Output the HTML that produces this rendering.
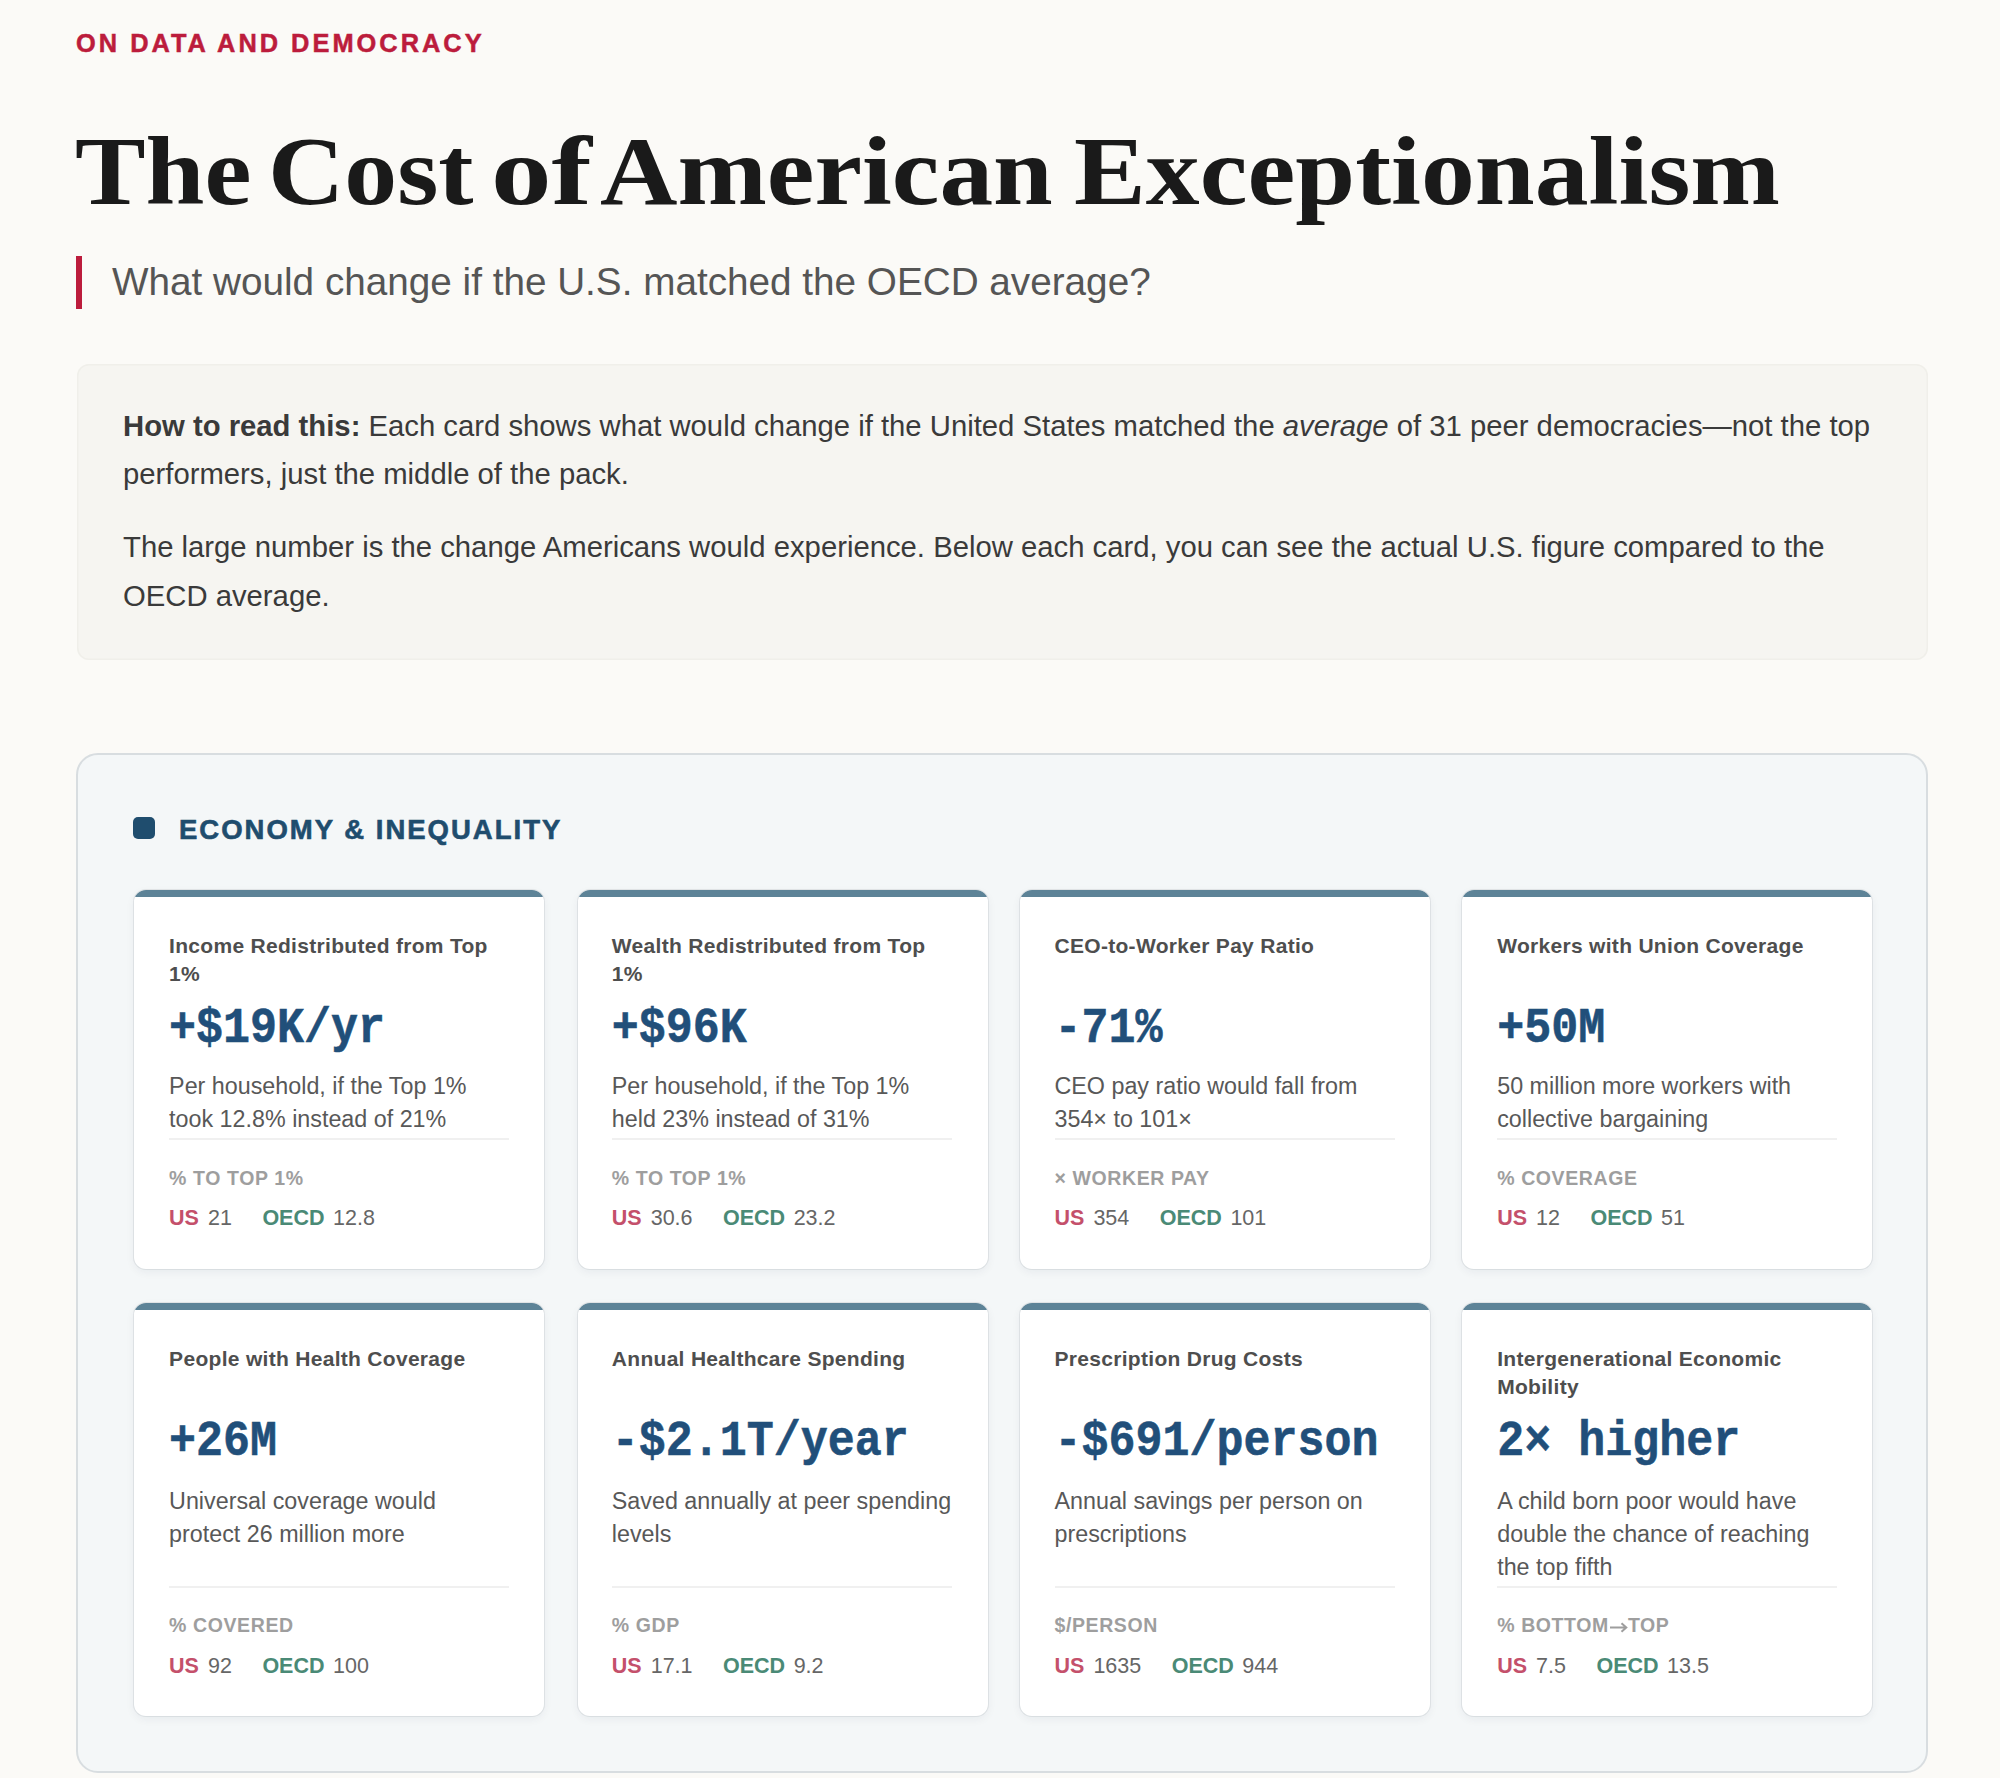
<!DOCTYPE html>
<html><head><meta charset="utf-8"><title>The Cost of American Exceptionalism</title>
<style>
html,body{margin:0;padding:0;}
@media (max-width:1500px){body{zoom:0.5;}}
body{width:2000px;height:1778px;background:#FBFAF7;position:relative;overflow:hidden;font-family:"Liberation Sans", sans-serif;}
.card{position:absolute;width:410px;background:#FFFFFF;border-radius:12px;overflow:hidden;box-shadow:0 0 0 1px rgba(30,40,50,0.08),0 3px 10px rgba(20,40,60,0.06);}
.card::before{content:"";position:absolute;left:0;top:0;right:0;height:6.5px;background:#5D8397;}
</style></head><body>
<div style="position:absolute;left:76px;top:26.68px;white-space:nowrap;font-family:'Liberation Sans', sans-serif;font-size:25.4px;line-height:33.02px;font-weight:bold;color:#BC1C3C;letter-spacing:3.0px;-webkit-text-stroke:0.5px #BC1C3C;">ON DATA AND DEMOCRACY</div>
<div style="position:absolute;left:75.42px;top:107.98px;white-space:nowrap;font-family:'Liberation Serif', serif;font-size:98px;line-height:127.4px;font-weight:bold;color:#1A1A1A;letter-spacing:0px;transform:scaleX(1.0799);transform-origin:0 0;">The</div>
<div style="position:absolute;left:267.61px;top:107.98px;white-space:nowrap;font-family:'Liberation Serif', serif;font-size:98px;line-height:127.4px;font-weight:bold;color:#1A1A1A;letter-spacing:0px;transform:scaleX(1.0788);transform-origin:0 0;">Cost</div>
<div style="position:absolute;left:490.59px;top:107.98px;white-space:nowrap;font-family:'Liberation Serif', serif;font-size:98px;line-height:127.4px;font-weight:bold;color:#1A1A1A;letter-spacing:0px;transform:scaleX(1.2367);transform-origin:0 0;">of</div>
<div style="position:absolute;left:599.91px;top:107.98px;white-space:nowrap;font-family:'Liberation Serif', serif;font-size:98px;line-height:127.4px;font-weight:bold;color:#1A1A1A;letter-spacing:0px;transform:scaleX(1.0944);transform-origin:0 0;">American</div>
<div style="position:absolute;left:1074.2px;top:107.98px;white-space:nowrap;font-family:'Liberation Serif', serif;font-size:98px;line-height:127.4px;font-weight:bold;color:#1A1A1A;letter-spacing:0px;transform:scaleX(1.0989);transform-origin:0 0;">Exceptionalism</div>
<div style="position:absolute;left:76px;top:255.5px;width:6px;height:53.5px;background:#BC1C3C"></div>
<div style="position:absolute;left:112px;top:256.93px;white-space:nowrap;font-family:'Liberation Sans', sans-serif;font-size:38.7px;line-height:50.31px;font-weight:normal;color:#555555;letter-spacing:0px;">What would change if the U.S. matched the OECD average?</div>
<div style="position:absolute;left:76.5px;top:363.5px;width:1851px;height:296px;background:#F6F5F1;border-radius:12px;box-shadow:inset 0 0 0 1.5px #F0EFEA"></div>
<div style="position:absolute;left:123px;top:401.75px;white-space:nowrap;font-family:'Liberation Sans', sans-serif;font-size:29.27px;line-height:48.4px;font-weight:normal;color:#3A3A3A;letter-spacing:0px;"><b>How to read this:</b> Each card shows what would change if the United States matched the <i>average</i> of 31 peer democracies—not the top</div>
<div style="position:absolute;left:123px;top:450.15px;white-space:nowrap;font-family:'Liberation Sans', sans-serif;font-size:29.27px;line-height:48.4px;font-weight:normal;color:#3A3A3A;letter-spacing:0px;">performers, just the middle of the pack.</div>
<div style="position:absolute;left:123px;top:523.45px;white-space:nowrap;font-family:'Liberation Sans', sans-serif;font-size:29.27px;line-height:48.4px;font-weight:normal;color:#3A3A3A;letter-spacing:0px;">The large number is the change Americans would experience. Below each card, you can see the actual U.S. figure compared to the</div>
<div style="position:absolute;left:123px;top:571.65px;white-space:nowrap;font-family:'Liberation Sans', sans-serif;font-size:29.27px;line-height:48.4px;font-weight:normal;color:#3A3A3A;letter-spacing:0px;">OECD average.</div>
<div style="position:absolute;left:76px;top:753px;width:1848px;height:1016px;background:#F4F7F8;border:2px solid #D8DDE0;border-radius:22px"></div>
<div style="position:absolute;left:133px;top:817px;width:22px;height:22px;background:#1F4D6E;border-radius:5px"></div>
<div style="position:absolute;left:179px;top:811.99px;white-space:nowrap;font-family:'Liberation Sans', sans-serif;font-size:27.5px;line-height:35.75px;font-weight:bold;color:#1F4D6E;letter-spacing:2.0px;-webkit-text-stroke:0.6px #1F4D6E;">ECONOMY &amp; INEQUALITY</div>
<div class="card" style="left:133.8px;top:890px;height:378.5px"></div>
<div style="position:absolute;left:169.1px;top:932.07px;white-space:nowrap;font-family:'Liberation Sans', sans-serif;font-size:21px;line-height:27.3px;font-weight:bold;color:#4E4E4E;letter-spacing:0.3px;">Income Redistributed from Top</div>
<div style="position:absolute;left:169.1px;top:960.07px;white-space:nowrap;font-family:'Liberation Sans', sans-serif;font-size:21px;line-height:27.3px;font-weight:bold;color:#4E4E4E;letter-spacing:0.3px;">1%</div>
<div style="position:absolute;left:169.1px;top:1001.77px;white-space:nowrap;font-family:'Liberation Mono', monospace;font-size:45px;line-height:58.5px;font-weight:bold;color:#214F7A;letter-spacing:0px;-webkit-text-stroke:0.5px #214F7A;transform:scaleY(1.105);transform-origin:0 41.23px;">+$19K/yr</div>
<div style="position:absolute;left:169.1px;top:1070.68px;white-space:nowrap;font-family:'Liberation Sans', sans-serif;font-size:23.3px;line-height:30.29px;font-weight:normal;color:#585858;letter-spacing:0px;">Per household, if the Top 1%</div>
<div style="position:absolute;left:169.1px;top:1103.68px;white-space:nowrap;font-family:'Liberation Sans', sans-serif;font-size:23.3px;line-height:30.29px;font-weight:normal;color:#585858;letter-spacing:0px;">took 12.8% instead of 21%</div>
<div style="position:absolute;left:169.1px;top:1138px;width:340px;height:2px;background:#F0F0F0"></div>
<div style="position:absolute;left:169.1px;top:1165.56px;white-space:nowrap;font-family:'Liberation Sans', sans-serif;font-size:19.5px;line-height:25.35px;font-weight:bold;color:#9E9E9E;letter-spacing:0.6px;">% TO TOP 1%</div>
<div style="position:absolute;left:169.1px;top:1205.07px;white-space:nowrap;font-family:'Liberation Sans', sans-serif;font-size:21.5px;line-height:27.95px;font-weight:normal;color:#666666;letter-spacing:0px;"><span style="font-weight:bold;color:#C4506B">US</span><span style="margin-left:9px">21</span><span style="font-weight:bold;color:#4A8A76;margin-left:30.5px">OECD</span><span style="margin-left:8.5px">12.8</span></div>
<div class="card" style="left:577.5px;top:890px;height:378.5px"></div>
<div style="position:absolute;left:611.8px;top:932.07px;white-space:nowrap;font-family:'Liberation Sans', sans-serif;font-size:21px;line-height:27.3px;font-weight:bold;color:#4E4E4E;letter-spacing:0.3px;">Wealth Redistributed from Top</div>
<div style="position:absolute;left:611.8px;top:960.07px;white-space:nowrap;font-family:'Liberation Sans', sans-serif;font-size:21px;line-height:27.3px;font-weight:bold;color:#4E4E4E;letter-spacing:0.3px;">1%</div>
<div style="position:absolute;left:611.8px;top:1001.77px;white-space:nowrap;font-family:'Liberation Mono', monospace;font-size:45px;line-height:58.5px;font-weight:bold;color:#214F7A;letter-spacing:0px;-webkit-text-stroke:0.5px #214F7A;transform:scaleY(1.105);transform-origin:0 41.23px;">+$96K</div>
<div style="position:absolute;left:611.8px;top:1070.68px;white-space:nowrap;font-family:'Liberation Sans', sans-serif;font-size:23.3px;line-height:30.29px;font-weight:normal;color:#585858;letter-spacing:0px;">Per household, if the Top 1%</div>
<div style="position:absolute;left:611.8px;top:1103.68px;white-space:nowrap;font-family:'Liberation Sans', sans-serif;font-size:23.3px;line-height:30.29px;font-weight:normal;color:#585858;letter-spacing:0px;">held 23% instead of 31%</div>
<div style="position:absolute;left:611.8px;top:1138px;width:340px;height:2px;background:#F0F0F0"></div>
<div style="position:absolute;left:611.8px;top:1165.56px;white-space:nowrap;font-family:'Liberation Sans', sans-serif;font-size:19.5px;line-height:25.35px;font-weight:bold;color:#9E9E9E;letter-spacing:0.6px;">% TO TOP 1%</div>
<div style="position:absolute;left:611.8px;top:1205.07px;white-space:nowrap;font-family:'Liberation Sans', sans-serif;font-size:21.5px;line-height:27.95px;font-weight:normal;color:#666666;letter-spacing:0px;"><span style="font-weight:bold;color:#C4506B">US</span><span style="margin-left:9px">30.6</span><span style="font-weight:bold;color:#4A8A76;margin-left:30.5px">OECD</span><span style="margin-left:8.5px">23.2</span></div>
<div class="card" style="left:1019.5px;top:890px;height:378.5px"></div>
<div style="position:absolute;left:1054.5px;top:932.07px;white-space:nowrap;font-family:'Liberation Sans', sans-serif;font-size:21px;line-height:27.3px;font-weight:bold;color:#4E4E4E;letter-spacing:0.3px;">CEO-to-Worker Pay Ratio</div>
<div style="position:absolute;left:1054.5px;top:1001.77px;white-space:nowrap;font-family:'Liberation Mono', monospace;font-size:45px;line-height:58.5px;font-weight:bold;color:#214F7A;letter-spacing:0px;-webkit-text-stroke:0.5px #214F7A;transform:scaleY(1.105);transform-origin:0 41.23px;">-71%</div>
<div style="position:absolute;left:1054.5px;top:1070.68px;white-space:nowrap;font-family:'Liberation Sans', sans-serif;font-size:23.3px;line-height:30.29px;font-weight:normal;color:#585858;letter-spacing:0px;">CEO pay ratio would fall from</div>
<div style="position:absolute;left:1054.5px;top:1103.68px;white-space:nowrap;font-family:'Liberation Sans', sans-serif;font-size:23.3px;line-height:30.29px;font-weight:normal;color:#585858;letter-spacing:0px;">354× to 101×</div>
<div style="position:absolute;left:1054.5px;top:1138px;width:340px;height:2px;background:#F0F0F0"></div>
<div style="position:absolute;left:1054.5px;top:1165.56px;white-space:nowrap;font-family:'Liberation Sans', sans-serif;font-size:19.5px;line-height:25.35px;font-weight:bold;color:#9E9E9E;letter-spacing:0.6px;">× WORKER PAY</div>
<div style="position:absolute;left:1054.5px;top:1205.07px;white-space:nowrap;font-family:'Liberation Sans', sans-serif;font-size:21.5px;line-height:27.95px;font-weight:normal;color:#666666;letter-spacing:0px;"><span style="font-weight:bold;color:#C4506B">US</span><span style="margin-left:9px">354</span><span style="font-weight:bold;color:#4A8A76;margin-left:30.5px">OECD</span><span style="margin-left:8.5px">101</span></div>
<div class="card" style="left:1462.0px;top:890px;height:378.5px"></div>
<div style="position:absolute;left:1497.2px;top:932.07px;white-space:nowrap;font-family:'Liberation Sans', sans-serif;font-size:21px;line-height:27.3px;font-weight:bold;color:#4E4E4E;letter-spacing:0.3px;">Workers with Union Coverage</div>
<div style="position:absolute;left:1497.2px;top:1001.77px;white-space:nowrap;font-family:'Liberation Mono', monospace;font-size:45px;line-height:58.5px;font-weight:bold;color:#214F7A;letter-spacing:0px;-webkit-text-stroke:0.5px #214F7A;transform:scaleY(1.105);transform-origin:0 41.23px;">+50M</div>
<div style="position:absolute;left:1497.2px;top:1070.68px;white-space:nowrap;font-family:'Liberation Sans', sans-serif;font-size:23.3px;line-height:30.29px;font-weight:normal;color:#585858;letter-spacing:0px;">50 million more workers with</div>
<div style="position:absolute;left:1497.2px;top:1103.68px;white-space:nowrap;font-family:'Liberation Sans', sans-serif;font-size:23.3px;line-height:30.29px;font-weight:normal;color:#585858;letter-spacing:0px;">collective bargaining</div>
<div style="position:absolute;left:1497.2px;top:1138px;width:340px;height:2px;background:#F0F0F0"></div>
<div style="position:absolute;left:1497.2px;top:1165.56px;white-space:nowrap;font-family:'Liberation Sans', sans-serif;font-size:19.5px;line-height:25.35px;font-weight:bold;color:#9E9E9E;letter-spacing:0.6px;">% COVERAGE</div>
<div style="position:absolute;left:1497.2px;top:1205.07px;white-space:nowrap;font-family:'Liberation Sans', sans-serif;font-size:21.5px;line-height:27.95px;font-weight:normal;color:#666666;letter-spacing:0px;"><span style="font-weight:bold;color:#C4506B">US</span><span style="margin-left:9px">12</span><span style="font-weight:bold;color:#4A8A76;margin-left:30.5px">OECD</span><span style="margin-left:8.5px">51</span></div>
<div class="card" style="left:133.8px;top:1303px;height:412.5px"></div>
<div style="position:absolute;left:169.1px;top:1345.07px;white-space:nowrap;font-family:'Liberation Sans', sans-serif;font-size:21px;line-height:27.3px;font-weight:bold;color:#4E4E4E;letter-spacing:0.3px;">People with Health Coverage</div>
<div style="position:absolute;left:169.1px;top:1414.77px;white-space:nowrap;font-family:'Liberation Mono', monospace;font-size:45px;line-height:58.5px;font-weight:bold;color:#214F7A;letter-spacing:0px;-webkit-text-stroke:0.5px #214F7A;transform:scaleY(1.105);transform-origin:0 41.23px;">+26M</div>
<div style="position:absolute;left:169.1px;top:1485.68px;white-space:nowrap;font-family:'Liberation Sans', sans-serif;font-size:23.3px;line-height:30.29px;font-weight:normal;color:#585858;letter-spacing:0px;">Universal coverage would</div>
<div style="position:absolute;left:169.1px;top:1518.68px;white-space:nowrap;font-family:'Liberation Sans', sans-serif;font-size:23.3px;line-height:30.29px;font-weight:normal;color:#585858;letter-spacing:0px;">protect 26 million more</div>
<div style="position:absolute;left:169.1px;top:1585.5px;width:340px;height:2px;background:#F0F0F0"></div>
<div style="position:absolute;left:169.1px;top:1613.06px;white-space:nowrap;font-family:'Liberation Sans', sans-serif;font-size:19.5px;line-height:25.35px;font-weight:bold;color:#9E9E9E;letter-spacing:0.6px;">% COVERED</div>
<div style="position:absolute;left:169.1px;top:1652.57px;white-space:nowrap;font-family:'Liberation Sans', sans-serif;font-size:21.5px;line-height:27.95px;font-weight:normal;color:#666666;letter-spacing:0px;"><span style="font-weight:bold;color:#C4506B">US</span><span style="margin-left:9px">92</span><span style="font-weight:bold;color:#4A8A76;margin-left:30.5px">OECD</span><span style="margin-left:8.5px">100</span></div>
<div class="card" style="left:577.5px;top:1303px;height:412.5px"></div>
<div style="position:absolute;left:611.8px;top:1345.07px;white-space:nowrap;font-family:'Liberation Sans', sans-serif;font-size:21px;line-height:27.3px;font-weight:bold;color:#4E4E4E;letter-spacing:0.3px;">Annual Healthcare Spending</div>
<div style="position:absolute;left:611.8px;top:1414.77px;white-space:nowrap;font-family:'Liberation Mono', monospace;font-size:45px;line-height:58.5px;font-weight:bold;color:#214F7A;letter-spacing:0px;-webkit-text-stroke:0.5px #214F7A;transform:scaleY(1.105);transform-origin:0 41.23px;">-$2.1T/year</div>
<div style="position:absolute;left:611.8px;top:1485.68px;white-space:nowrap;font-family:'Liberation Sans', sans-serif;font-size:23.3px;line-height:30.29px;font-weight:normal;color:#585858;letter-spacing:0px;">Saved annually at peer spending</div>
<div style="position:absolute;left:611.8px;top:1518.68px;white-space:nowrap;font-family:'Liberation Sans', sans-serif;font-size:23.3px;line-height:30.29px;font-weight:normal;color:#585858;letter-spacing:0px;">levels</div>
<div style="position:absolute;left:611.8px;top:1585.5px;width:340px;height:2px;background:#F0F0F0"></div>
<div style="position:absolute;left:611.8px;top:1613.06px;white-space:nowrap;font-family:'Liberation Sans', sans-serif;font-size:19.5px;line-height:25.35px;font-weight:bold;color:#9E9E9E;letter-spacing:0.6px;">% GDP</div>
<div style="position:absolute;left:611.8px;top:1652.57px;white-space:nowrap;font-family:'Liberation Sans', sans-serif;font-size:21.5px;line-height:27.95px;font-weight:normal;color:#666666;letter-spacing:0px;"><span style="font-weight:bold;color:#C4506B">US</span><span style="margin-left:9px">17.1</span><span style="font-weight:bold;color:#4A8A76;margin-left:30.5px">OECD</span><span style="margin-left:8.5px">9.2</span></div>
<div class="card" style="left:1019.5px;top:1303px;height:412.5px"></div>
<div style="position:absolute;left:1054.5px;top:1345.07px;white-space:nowrap;font-family:'Liberation Sans', sans-serif;font-size:21px;line-height:27.3px;font-weight:bold;color:#4E4E4E;letter-spacing:0.3px;">Prescription Drug Costs</div>
<div style="position:absolute;left:1054.5px;top:1414.77px;white-space:nowrap;font-family:'Liberation Mono', monospace;font-size:45px;line-height:58.5px;font-weight:bold;color:#214F7A;letter-spacing:0px;-webkit-text-stroke:0.5px #214F7A;transform:scaleY(1.105);transform-origin:0 41.23px;">-$691/person</div>
<div style="position:absolute;left:1054.5px;top:1485.68px;white-space:nowrap;font-family:'Liberation Sans', sans-serif;font-size:23.3px;line-height:30.29px;font-weight:normal;color:#585858;letter-spacing:0px;">Annual savings per person on</div>
<div style="position:absolute;left:1054.5px;top:1518.68px;white-space:nowrap;font-family:'Liberation Sans', sans-serif;font-size:23.3px;line-height:30.29px;font-weight:normal;color:#585858;letter-spacing:0px;">prescriptions</div>
<div style="position:absolute;left:1054.5px;top:1585.5px;width:340px;height:2px;background:#F0F0F0"></div>
<div style="position:absolute;left:1054.5px;top:1613.06px;white-space:nowrap;font-family:'Liberation Sans', sans-serif;font-size:19.5px;line-height:25.35px;font-weight:bold;color:#9E9E9E;letter-spacing:0.6px;">$/PERSON</div>
<div style="position:absolute;left:1054.5px;top:1652.57px;white-space:nowrap;font-family:'Liberation Sans', sans-serif;font-size:21.5px;line-height:27.95px;font-weight:normal;color:#666666;letter-spacing:0px;"><span style="font-weight:bold;color:#C4506B">US</span><span style="margin-left:9px">1635</span><span style="font-weight:bold;color:#4A8A76;margin-left:30.5px">OECD</span><span style="margin-left:8.5px">944</span></div>
<div class="card" style="left:1462.0px;top:1303px;height:412.5px"></div>
<div style="position:absolute;left:1497.2px;top:1345.07px;white-space:nowrap;font-family:'Liberation Sans', sans-serif;font-size:21px;line-height:27.3px;font-weight:bold;color:#4E4E4E;letter-spacing:0.3px;">Intergenerational Economic</div>
<div style="position:absolute;left:1497.2px;top:1373.07px;white-space:nowrap;font-family:'Liberation Sans', sans-serif;font-size:21px;line-height:27.3px;font-weight:bold;color:#4E4E4E;letter-spacing:0.3px;">Mobility</div>
<div style="position:absolute;left:1497.2px;top:1414.77px;white-space:nowrap;font-family:'Liberation Mono', monospace;font-size:45px;line-height:58.5px;font-weight:bold;color:#214F7A;letter-spacing:0px;-webkit-text-stroke:0.5px #214F7A;transform:scaleY(1.105);transform-origin:0 41.23px;">2× higher</div>
<div style="position:absolute;left:1497.2px;top:1485.68px;white-space:nowrap;font-family:'Liberation Sans', sans-serif;font-size:23.3px;line-height:30.29px;font-weight:normal;color:#585858;letter-spacing:0px;">A child born poor would have</div>
<div style="position:absolute;left:1497.2px;top:1518.68px;white-space:nowrap;font-family:'Liberation Sans', sans-serif;font-size:23.3px;line-height:30.29px;font-weight:normal;color:#585858;letter-spacing:0px;">double the chance of reaching</div>
<div style="position:absolute;left:1497.2px;top:1551.68px;white-space:nowrap;font-family:'Liberation Sans', sans-serif;font-size:23.3px;line-height:30.29px;font-weight:normal;color:#585858;letter-spacing:0px;">the top fifth</div>
<div style="position:absolute;left:1497.2px;top:1585.5px;width:340px;height:2px;background:#F0F0F0"></div>
<div style="position:absolute;left:1497.2px;top:1613.06px;white-space:nowrap;font-family:'Liberation Sans', sans-serif;font-size:19.5px;line-height:25.35px;font-weight:bold;color:#9E9E9E;letter-spacing:0.6px;">% BOTTOM<svg width="19" height="12" viewBox="0 0 19 12" style="vertical-align:-1px"><path d="M1 6.5H17M12.5 2.3L17.3 6.5L12.5 10.7" stroke="#9E9E9E" stroke-width="2" fill="none"/></svg>TOP</div>
<div style="position:absolute;left:1497.2px;top:1652.57px;white-space:nowrap;font-family:'Liberation Sans', sans-serif;font-size:21.5px;line-height:27.95px;font-weight:normal;color:#666666;letter-spacing:0px;"><span style="font-weight:bold;color:#C4506B">US</span><span style="margin-left:9px">7.5</span><span style="font-weight:bold;color:#4A8A76;margin-left:30.5px">OECD</span><span style="margin-left:8.5px">13.5</span></div>
</body></html>
